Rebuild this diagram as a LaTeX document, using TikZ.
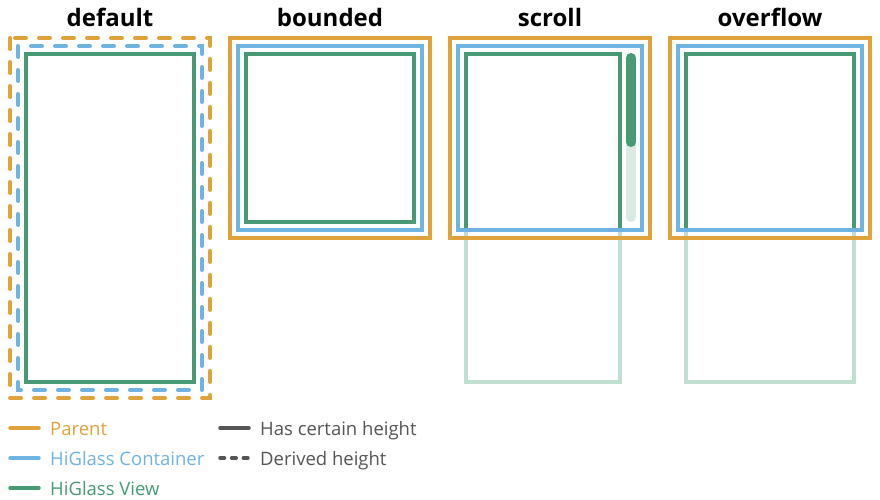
\documentclass[tikz,border=0pt]{standalone}
\usepackage{fontspec}
\setmainfont{Open Sans}
\definecolor{parentc}{HTML}{E0A23A}
\definecolor{containerc}{HTML}{6FB3E2}
\definecolor{viewc}{HTML}{489A74}
\definecolor{viewfade}{HTML}{C1DFD1}
\definecolor{trackc}{HTML}{D9EBE2}
\definecolor{keyc}{HTML}{555555}
\tikzset{
  box/.style={line width=4pt},
  derived/.style={dash pattern=on 11pt off 13pt, line cap=round},
  title/.style={font=\fontsize{24}{28}\selectfont\bfseries, anchor=base, inner sep=0pt},
  legend/.style={font=\fontsize{18.5}{22}\selectfont, anchor=base west, inner sep=0pt},
  key/.style={line width=3.5pt, line cap=round},
  bar/.style={line width=10pt, line cap=round},
}
\begin{document}
\begin{tikzpicture}[x=1pt,y=-1pt]
  \useasboundingbox (0,0) rectangle (880,500);
  \node[title] (default) at (110,27) {default};
  \node[title] (bounded) at (330,27) {bounded};
  \node[title] (scroll) at (550,27) {scroll};
  \node[title] (overflow) at (770,27) {overflow};
  \begin{scope}[box]
    \draw[parentc, derived] (10,38) rectangle (210,398);
    \draw[containerc, derived] (18,46) rectangle (202,390);
    \draw[viewc] (26,54) rectangle (194,382);
    \draw[parentc] (230,38) rectangle (430,238);
    \draw[containerc] (238,46) rectangle (422,230);
    \draw[viewc] (246,54) rectangle (414,222);
    \draw[viewfade] (466,54) rectangle (620,382);
    \draw[parentc] (450,38) rectangle (650,238);
    \draw[viewc] (466,230) -- (466,54) -- (620,54) -- (620,230);
    \draw[containerc] (458,46) rectangle (642,230);
    \draw[viewfade] (686,54) rectangle (854,382);
    \draw[parentc] (670,38) rectangle (870,238);
    \draw[viewc] (686,230) -- (686,54) -- (854,54) -- (854,230);
    \draw[containerc] (678,46) rectangle (862,230);
  \end{scope}
  \draw[bar, trackc] (631,58) -- (631,217);
  \draw[bar, viewc] (631,58) -- (631,142);
  \coordinate (k1a) at (10,428); \coordinate (k1b) at (39,428);
  \coordinate (k2a) at (10,458); \coordinate (k2b) at (39,458);
  \coordinate (k3a) at (10,488); \coordinate (k3b) at (39,488);
  \coordinate (k4a) at (220,428); \coordinate (k4b) at (249,428);
  \coordinate (k5a) at (220,458); \coordinate (k5b) at (249,458);
  \draw[key, parentc] (k1a) -- (k1b);
  \draw[key, containerc] (k2a) -- (k2b);
  \draw[key, viewc] (k3a) -- (k3b);
  \draw[key, keyc] (k4a) -- (k4b);
  \draw[key, keyc, dash pattern=on 4.5pt off 7.2pt] (k5a) -- (k5b);
  \node[legend, text=parentc] (parent) at (50,435) {Parent};
  \node[legend, text=containerc] (container) at (50,465) {HiGlass Container};
  \node[legend, text=viewc] (view) at (50,495) {HiGlass View};
  \node[legend, text=keyc] (certain) at (260,435) {Has certain height};
  \node[legend, text=keyc] (derivedh) at (260,465) {Derived height};
\end{tikzpicture}
\end{document}
